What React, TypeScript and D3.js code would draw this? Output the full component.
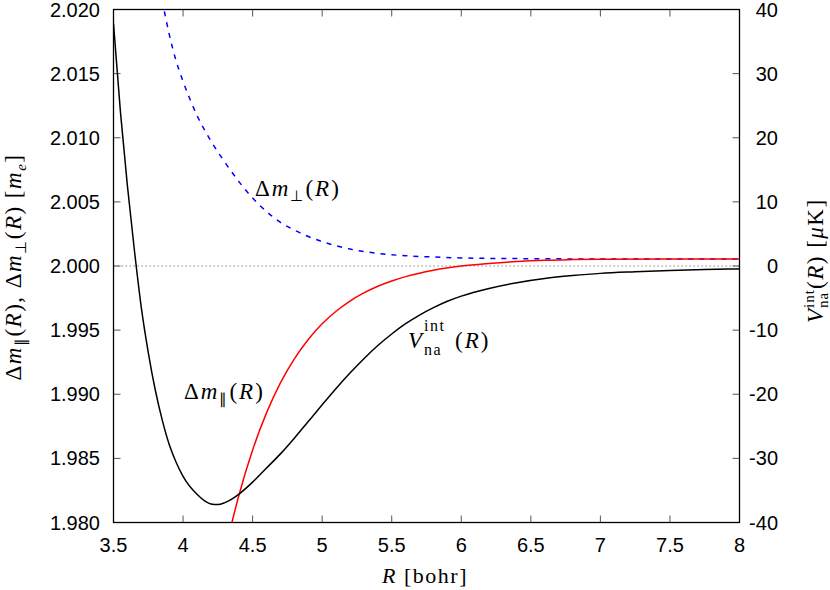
import React from "react";
import { scaleLinear, line, curveMonotoneX, format } from "d3";

// Δm_par(R), red, left axis
const rPar = [4.35, 4.4, 4.5, 4.6, 4.7, 4.8, 4.9, 5.0, 5.1, 5.2, 5.3, 5.4, 5.5, 5.6, 5.8, 6.0, 6.2, 6.4, 6.6, 6.8, 7.0, 7.5, 8.0];
const dmPar = [1.97995, 1.98207, 1.98566, 1.98855, 1.99088, 1.99276, 1.99427, 1.99549, 1.99647, 1.99727, 1.9979, 1.99842, 1.99883, 1.99917, 1.99967, 2.0, 2.0002, 2.00035, 2.00045, 2.0005, 2.00053, 2.00055, 2.00055];

// Δm_perp(R), blue dashed, left axis
const rPerp = [3.85, 3.9, 3.95, 4.0, 4.05, 4.1, 4.2, 4.3, 4.4, 4.5, 4.6, 4.7, 4.8, 4.9, 5.0, 5.1, 5.2, 5.3, 5.4, 5.6, 5.8, 6.0, 6.5, 7.0, 8.0];
const dmPerp = [2.0207, 2.0181, 2.016, 2.0144, 2.013, 2.01175, 2.00975, 2.0081, 2.0066, 2.0053, 2.00425, 2.0034, 2.0028, 2.0023, 2.0019, 2.00158, 2.00132, 2.00113, 2.00098, 2.0008, 2.0007, 2.00063, 2.00057, 2.00055, 2.00055];

// V_na^int(R) in µK, black, right axis
const rV = [3.5, 3.55, 3.6, 3.65, 3.7, 3.75, 3.8, 3.85, 3.9, 3.95, 4.0, 4.1, 4.2, 4.25, 4.3, 4.4, 4.5, 4.6, 4.7, 4.8, 4.9, 5.0, 5.1, 5.2, 5.3, 5.4, 5.5, 5.6, 5.7, 5.8, 5.9, 6.0, 6.2, 6.4, 6.6, 6.8, 7.0, 7.25, 7.5, 7.75, 8.0];
const vNa = [37.8, 24, 12.5, 2.5, -6.5, -13.5, -19.3, -24, -27.8, -30.6, -32.8, -35.6, -37.1, -37.2, -36.9, -35.6, -33.7, -31.5, -29.3, -26.85, -24.25, -21.65, -19.1, -16.7, -14.45, -12.4, -10.6, -9.0, -7.65, -6.5, -5.5, -4.7, -3.5, -2.6, -1.95, -1.5, -1.15, -0.9, -0.7, -0.55, -0.45];

const xTicks = [3.5, 4, 4.5, 5, 5.5, 6, 6.5, 7, 7.5, 8];
const yLeftTicks = [1.98, 1.985, 1.99, 1.995, 2.0, 2.005, 2.01, 2.015, 2.02];
const yRightTicks = [-40, -30, -20, -10, 0, 10, 20, 30, 40];

const W = 830;
const H = 590;
const left = 113.5;
const right = 739.5;
const top = 9.5;
const bottom = 522.5;

const sans = "Liberation Sans";
const serif = "Liberation Serif";

export default function App() {
  const x = scaleLinear().domain([3.5, 8]).range([left, right]);
  const yL = scaleLinear().domain([1.98, 2.02]).range([bottom, top]);
  const yR = scaleLinear().domain([-40, 40]).range([bottom, top]);

  const mk = (rs: number[], vs: number[], ys: any) =>
    line<number>()
      .x((d, i) => x(rs[i]))
      .y((d) => ys(d))
      .curve(curveMonotoneX)(vs) as string;

  const fmtL = format(".3f");
  const tick = 7;

  return (
    <svg width={W} height={H} style={{ position: "absolute", left: 0, top: 0, background: "#fff" }}>
      <defs>
        <clipPath id="plot">
          <rect x={left} y={top} width={right - left} height={bottom - top} />
        </clipPath>
      </defs>

      {/* zero line */}
      <line x1={left} x2={right} y1={yL(2.0)} y2={yL(2.0)} stroke="#888" strokeWidth={1} strokeDasharray="1.5,2.5" />

      {/* ticks */}
      <g stroke="#555" strokeWidth={1}>
        {xTicks.map((t) => (
          <g key={"x" + t}>
            <line x1={x(t)} x2={x(t)} y1={bottom} y2={bottom - tick} />
            <line x1={x(t)} x2={x(t)} y1={top} y2={top + tick} />
          </g>
        ))}
        {yLeftTicks.map((t) => (
          <line key={"l" + t} x1={left} x2={left + tick} y1={yL(t)} y2={yL(t)} />
        ))}
        {yRightTicks.map((t) => (
          <line key={"r" + t} x1={right} x2={right - tick} y1={yR(t)} y2={yR(t)} />
        ))}
      </g>

      {/* curves */}
      <g clipPath="url(#plot)" fill="none" strokeWidth={1.5}>
        <path d={mk(rPerp, dmPerp, yL)} stroke="#0000ff" strokeDasharray="5,6" />
        <path d={mk(rPar, dmPar, yL)} stroke="#ff0000" />
        <path d={mk(rV, vNa, yR)} stroke="#000" />
      </g>

      {/* frame */}
      <rect x={left} y={top} width={right - left} height={bottom - top} fill="none" stroke="#000" strokeWidth={1.3} />

      {/* tick labels */}
      <g fontFamily={sans} fontSize={20} fill="#000">
        {xTicks.map((t) => (
          <text key={"xl" + t} x={x(t)} y={552} textAnchor="middle">
            {String(t)}
          </text>
        ))}
        {yLeftTicks.map((t) => (
          <text key={"ll" + t} x={100} y={yL(t) + 7} textAnchor="end">
            {fmtL(t)}
          </text>
        ))}
        {yRightTicks.map((t) => (
          <text key={"rl" + t} x={778} y={yR(t) + 7} textAnchor="end">
            {String(t)}
          </text>
        ))}
      </g>

      {/* axis titles */}
      <text x={425} y={583} textAnchor="middle" fontFamily={serif} fontSize={22} letterSpacing={1.5}>
        <tspan fontStyle="italic">R</tspan> [bohr]
      </text>

      <g transform="translate(21,267) rotate(-90)" fontFamily={serif} fontSize={23} letterSpacing={1.5}>
        <text x={0} y={0} textAnchor="middle">
          Δ<tspan fontStyle="italic">m</tspan>
          <tspan fontSize={15} dy={5}>∥</tspan>
          <tspan dy={-5}>(</tspan>
          <tspan fontStyle="italic">R</tspan>), Δ<tspan fontStyle="italic">m</tspan>
          <tspan fontSize={15} dy={5}>⊥</tspan>
          <tspan dy={-5}>(</tspan>
          <tspan fontStyle="italic">R</tspan>) [<tspan fontStyle="italic">m</tspan>
          <tspan fontSize={15} fontStyle="italic" dy={5}>e</tspan>
          <tspan dy={-5}>]</tspan>
        </text>
      </g>

      <g transform="translate(823,262) rotate(-90)" fontFamily={serif} fontSize={23}>
        <text x={-61} y={0} fontStyle="italic">V</text>
        <text x={-46} y={-9} fontSize={15} letterSpacing={1}>int</text>
        <text x={-46} y={5} fontSize={15} letterSpacing={1}>na</text>
        <text x={-27} y={0} letterSpacing={1.5}>
          (<tspan fontStyle="italic">R</tspan>) [<tspan fontStyle="italic">μ</tspan>K]
        </text>
      </g>

      {/* curve labels */}
      <g fontFamily={serif} fontSize={23}>
        <text x={255} y={196} letterSpacing={2}>
          Δ<tspan fontStyle="italic">m</tspan>
          <tspan fontSize={15} dy={5}>⊥</tspan>
          <tspan dy={-5}>(</tspan>
          <tspan fontStyle="italic">R</tspan>)
        </text>
        <text x={184} y={399} letterSpacing={2}>
          Δ<tspan fontStyle="italic">m</tspan>
          <tspan fontSize={15} dy={5}>∥</tspan>
          <tspan dy={-5}>(</tspan>
          <tspan fontStyle="italic">R</tspan>)
        </text>
        <text x={408} y={348} fontStyle="italic">V</text>
        <text x={424} y={331} fontSize={16} letterSpacing={1.5}>int</text>
        <text x={424} y={355} fontSize={16} letterSpacing={1.5}>na</text>
        <text x={455} y={348} letterSpacing={2}>
          (<tspan fontStyle="italic">R</tspan>)
        </text>
      </g>
    </svg>
  );
}
